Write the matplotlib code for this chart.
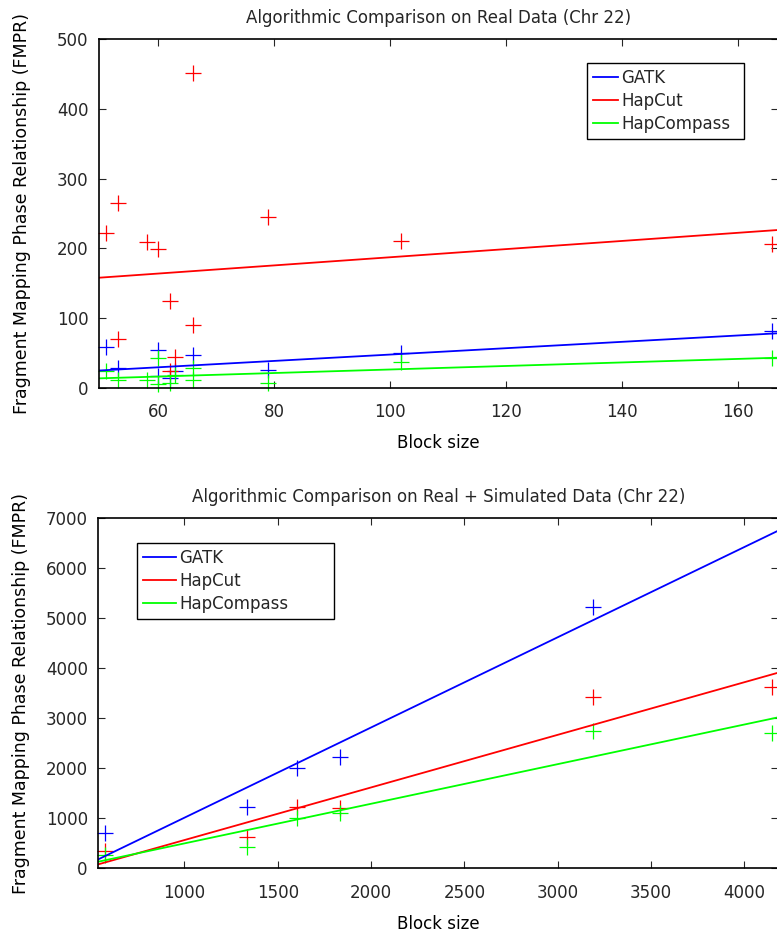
import matplotlib
matplotlib.use('Agg')
import matplotlib.pyplot as plt

plt.rcParams['font.family'] = ['DejaVu Sans']
plt.rcParams['font.size'] = 12
plt.rcParams['text.color'] = '#262626'
plt.rcParams['xtick.color'] = '#262626'
plt.rcParams['ytick.color'] = '#262626'

methods = ['GATK', 'HapCut', 'HapCompass']
colors = ['#0000ff', '#ff0000', '#00ff00']

# ---- real data (chr 22) ----
real_x = {
    'GATK': [51, 53, 60, 60, 62, 63, 66, 79, 102, 166],
    'HapCut': [51, 53, 53, 58, 60, 62, 62, 63, 66, 66, 79, 102, 166],
    'HapCompass': [51, 53, 58, 60, 60, 62, 63, 66, 66, 79, 102, 166],
}
real_y = {
    'GATK': [59, 28, 54, 17, 15, 24, 47, 26, 50, 81],
    'HapCut': [222, 265, 70, 209, 199, 125, 25, 45, 452, 90, 245, 211, 206],
    'HapCompass': [24, 12, 12, 43, 5, 7, 18, 29, 12, 7, 37, 43],
}
real_fit_x = [49.8, 167]
real_fit_y = {
    'GATK': [25, 78.4],
    'HapCut': [158, 226.4],
    'HapCompass': [13.8, 43.4],
}

# ---- real + simulated data ----
sim_x = {
    'GATK': [575, 1334, 1602, 1834, 3191],
    'HapCut': [575, 1334, 1602, 1834, 3191, 4147],
    'HapCompass': [575, 1334, 1602, 1834, 3191, 4147],
}
sim_y = {
    'GATK': [700, 1233, 2013, 2220, 5233],
    'HapCut': [350, 633, 1220, 1213, 3420, 3633],
    'HapCompass': [260, 433, 1000, 1113, 2753, 2713],
}
sim_fit_x = [539, 4180]
sim_fit_y = {
    'GATK': [180, 6753],
    'HapCut': [80, 3913],
    'HapCompass': [133, 3020],
}

fig = plt.figure(figsize=(7.77, 9.34), dpi=100)
ax1 = fig.add_axes([0.1274, 0.5846, 0.8740, 0.3736])
ax2 = fig.add_axes([0.1265, 0.0703, 0.8749, 0.3747])


def draw(ax, xs, ys, fx, fy, leg_box, handle_len):
    for m, c in zip(methods, colors):
        ax.plot(xs[m], ys[m], linestyle='none', marker='+', markersize=11,
                markeredgewidth=0.9, markeredgecolor=c, markerfacecolor=c,
                clip_on=False)
    for m, c in zip(methods, colors):
        ax.plot(fx, fy[m], color=c, linewidth=1.3, label=m)
    ax.tick_params(direction='in', top=True, right=True, length=5, width=0.8,
                   labelsize=12)
    ax.tick_params(axis='x', pad=11)
    ax.tick_params(axis='y', pad=7.5)
    for s in ax.spines.values():
        s.set_linewidth(1.2)
    ax.set_xlabel('Block size', fontsize=12)
    ax.set_ylabel('Fragment Mapping Phase Relationship (FMPR)', fontsize=12.5)
    leg = ax.legend(loc='upper left', bbox_to_anchor=leg_box, mode='expand',
                    fontsize=12, fancybox=False, edgecolor='black', framealpha=1,
                    handlelength=handle_len, handletextpad=0.2, labelspacing=0.3,
                    borderpad=0.35, borderaxespad=0)
    leg.get_frame().set_linewidth(1.0)


# top legend: left, bottom, width, top-aligned box in axes fraction
draw(ax1, real_x, real_y, real_fit_x, real_fit_y, (0.7187, 0.0, 0.2312, 0.930), 1.5)
ax1.set_xlim(49.8, 167)
ax1.set_ylim(0, 500)
ax1.set_xticks(range(60, 161, 20))
ax1.set_yticks(range(0, 501, 100))
ax1.set_title('Algorithmic Comparison on Real Data (Chr 22)', fontsize=12, pad=11.5)
ax1.xaxis.set_label_coords(0.5, -0.133)
ax1.yaxis.set_label_coords(-0.1, 0.5)

draw(ax2, sim_x, sim_y, sim_fit_x, sim_fit_y, (0.0565, 0.0, 0.2898, 0.9286), 2.0)
ax2.set_xlim(539, 4180)
ax2.set_ylim(0, 7000)
ax2.set_xticks(range(1000, 4001, 500))
ax2.set_yticks(range(0, 7001, 1000))
ax2.set_title('Algorithmic Comparison on Real + Simulated Data (Chr 22)', fontsize=12, pad=11.5)
ax2.xaxis.set_label_coords(0.5, -0.134)
ax2.yaxis.set_label_coords(-0.1, 0.5)

fig.savefig('out.png', dpi=100)
